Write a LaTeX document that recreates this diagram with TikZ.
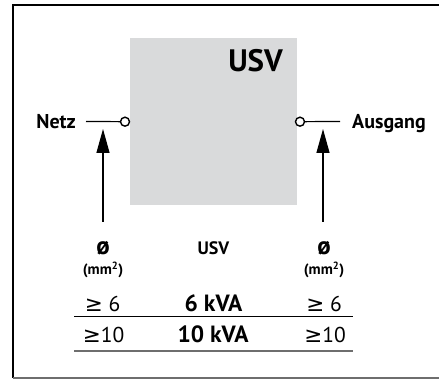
\documentclass[tikz,border=0pt]{standalone}
\usepackage{fontspec}
\setmainfont{PT Sans}
\newfontfamily\gefont{DejaVu Sans}
\usetikzlibrary{arrows.meta}
\definecolor{boxgray}{RGB}{217,218,219}
\definecolor{rulegray}{RGB}{110,110,110}
\newcommand{\gesign}{{\gefont ≥}}

\begin{document}
\begin{tikzpicture}[x=1pt, y=1pt, >={Triangle[length=24pt,width=13pt]}]
        \tikzset{
            sidetext/.style={font=\bfseries\fontsize{20}{22}\selectfont, inner sep=0pt, text depth=0pt},
            headtext/.style={font=\bfseries\fontsize{18}{20}\selectfont, inner sep=0pt, anchor=base},
            diatext/.style={font=\bfseries\fontsize{25}{27}\selectfont, inner sep=0pt, anchor=base},
            unittext/.style={font=\bfseries\fontsize{15}{17}\selectfont, inner sep=0pt, anchor=base},
            valtext/.style={font=\fontsize{21.5}{24}\selectfont, inner sep=0pt, anchor=base},
            powtext/.style={font=\bfseries\fontsize{23.5}{26}\selectfont, inner sep=0pt, anchor=base},
            jack/.style={circle, draw, fill=white, line width=1.4pt, minimum size=9pt, inner sep=0pt},
            wire/.style={line width=1.2pt},
            feed/.style={->, line width=1.3pt}
        }
        \useasboundingbox (0,0) rectangle (439,379);

        % Frame
        \draw[line width=1.5pt] (439,374) -- (13,374) -- (13,1);
        \draw[line width=1.3pt, rulegray] (13,1) -- (439,1);

        % UPS block
        \node[fill=boxgray, minimum width=167pt, minimum height=167pt, inner sep=0pt, anchor=south west] (usv) at (130,174) {};
        \node[font=\bfseries\fontsize{31}{34}\selectfont, inner sep=0pt, anchor=base east] (usvtitle) at (283,307) {USV};

        % Terminals
        \node[jack] (inpin) at (125,257.3) {};
        \node[jack] (outpin) at (300,257.3) {};
        \node[sidetext, anchor=base east] (netz) at (76,250.5) {Netz};
        \node[sidetext, anchor=base west] (ausgang) at (352,250.5) {Ausgang};
        \draw[wire] ([xshift=10pt]netz.east) -- (inpin);
        \draw[wire] (outpin) -- ([xshift=-12pt]ausgang.west);

        % Arrows
        \coordinate (infoot) at (103,157);
        \coordinate (intip) at (103,250);
        \coordinate (outfoot) at (323,157);
        \coordinate (outtip) at (323,250);
        \draw[feed] (infoot) -- (intip);
        \draw[feed] (outfoot) -- (outtip);

        % Table head
        \node[diatext] (diain) at (103,124) {ø};
        \node[headtext] (headusv) at (213.5,124) {USV};
        \node[diatext] (diaout) at (324,124) {ø};
        \node[unittext] (unitin) at (103,104) {(mm\textsuperscript{2})};
        \node[unittext] (unitout) at (324,104) {(mm\textsuperscript{2})};

        % Table rows
        \node[valtext] (rowa1) at (102.5,67) {\gesign\ 6};
        \node[powtext] (rowa2) at (213.5,67) {6 kVA};
        \node[valtext] (rowa3) at (324,67) {\gesign\ 6};
        \draw[line width=1pt] (74,62) -- (353,62);
        \node[valtext] (rowb1) at (103.5,36) {\gesign10};
        \node[powtext] (rowb2) at (213,36) {10 kVA};
        \node[valtext] (rowb3) at (325,36) {\gesign10};
        \draw[line width=1.3pt, rulegray] (74,28) -- (353,28);
    \end{tikzpicture}
\end{document}
